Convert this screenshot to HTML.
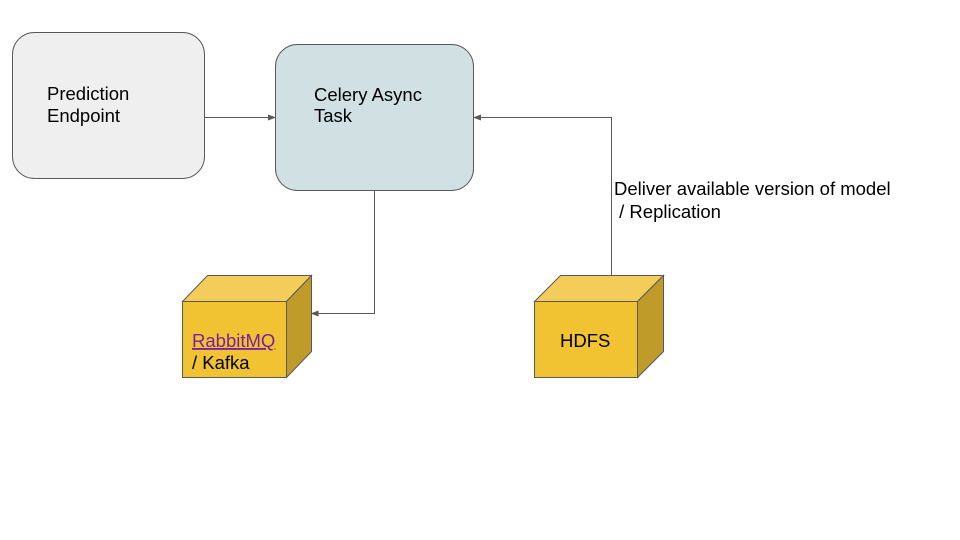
<!DOCTYPE html>
<html><head><meta charset="utf-8"><style>
html,body{margin:0;padding:0;background:#fff;}
svg{display:block;}
text{font-family:"Liberation Sans",Arial,sans-serif;font-size:18.5px;fill:#000;}
</style></head><body>
<svg width="960" height="540" viewBox="0 0 960 540" xmlns="http://www.w3.org/2000/svg">
<defs>
<marker id="a" markerWidth="8" markerHeight="6" refX="7" refY="3" orient="auto" markerUnits="userSpaceOnUse">
<path d="M0,0 L8,3 L0,6 Z" fill="#595959"/></marker>
</defs>
<rect x="12.5" y="32.5" width="192" height="146" rx="22" fill="#efefef" stroke="#595959" stroke-width="1"/>
<text x="47" y="100">Prediction</text>
<text x="47" y="122">Endpoint</text>
<rect x="275.5" y="44.5" width="198" height="146" rx="22" fill="#d0e0e3" stroke="#595959" stroke-width="1"/>
<text x="314" y="101">Celery Async</text>
<text x="314" y="122">Task</text>
<line x1="204.5" y1="117.5" x2="275" y2="117.5" stroke="#595959" stroke-width="1" marker-end="url(#a)"/>
<polyline points="374.5,190.5 374.5,313.5 311.5,313.5" fill="none" stroke="#595959" stroke-width="1" marker-end="url(#a)"/>
<polyline points="611.5,275.5 611.5,117.5 474,117.5" fill="none" stroke="#595959" stroke-width="1" marker-end="url(#a)"/>
<text x="614" y="195">Deliver available version of model</text>
<text x="614" y="218">&#160;/ Replication</text>
<polygon points="182.5,301.5 207.5,275.5 311.5,275.5 286.5,301.5" fill="#f3cc5a" stroke="#595959"/>
<polygon points="286.5,301.5 311.5,275.5 311.5,351.5 286.5,377.5" fill="#bf9b2a" stroke="#595959"/>
<rect x="182.5" y="301.5" width="104" height="76" fill="#f1c232" stroke="#595959"/>
<text x="192" y="347" style="fill:#7b1fa2;text-decoration:underline">RabbitMQ</text>
<text x="192" y="369">/ Kafka</text>
<polygon points="534.5,301.5 560.5,275.5 663.5,275.5 637.5,301.5" fill="#f3cc5a" stroke="#595959"/>
<polygon points="637.5,301.5 663.5,275.5 663.5,351.5 637.5,377.5" fill="#bf9b2a" stroke="#595959"/>
<rect x="534.5" y="301.5" width="103" height="76" fill="#f1c232" stroke="#595959"/>
<text x="560" y="347">HDFS</text>
</svg>
</body></html>
